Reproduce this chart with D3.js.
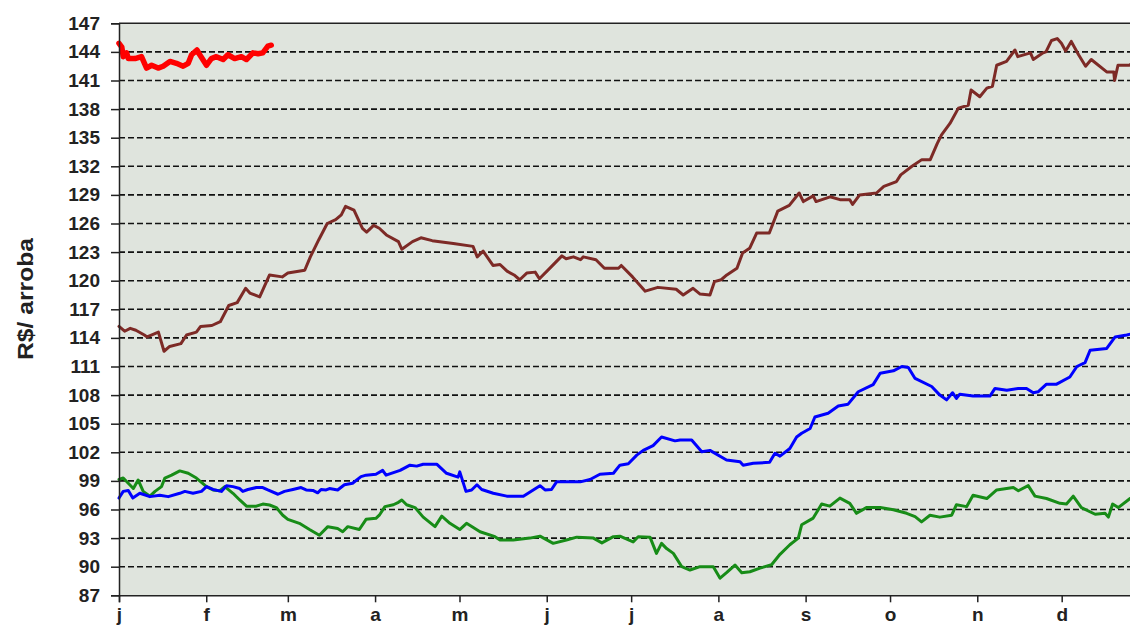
<!DOCTYPE html>
<html><head><meta charset="utf-8">
<script src="https://cdn.jsdelivr.net/npm/d3@7/dist/d3.min.js"></script>
<style>
html,body{margin:0;padding:0;background:#fff;}
svg{display:block;}
text{font-family:Arial,"Liberation Sans",sans-serif;}
</style></head>
<body>
<svg id="chart" width="1130" height="625"></svg>
<script>
// ---- data (day of year, R$/arroba) ----
const monthDays = [0,31,60,91,121,152,182,213,244,274,305,335];
const monthLabels = ["j","f","m","a","m","j","j","a","s","o","n","d"];
const yTicks = [87,90,93,96,99,102,105,108,111,114,117,120,123,126,129,132,135,138,141,144,147];

const redSeries = [[0,144.9],[1,144.5],[1.5,143.5],[2.7,143.9],[3.3,143.3],[5.7,143.3],[8,143.5],[9.8,142.3],[11.6,142.6],[13.9,142.3],[15.7,142.5],[18.1,143.0],[20.4,142.8],[22.8,142.5],[24.6,142.8],[25.8,143.7],[27.7,144.2],[28.7,143.7],[31.1,142.6],[32.8,143.3],[34.6,143.5],[37,143.2],[38.7,143.7],[41.1,143.3],[43.5,143.5],[45.3,143.2],[47.6,143.9],[49.4,143.8],[51.1,143.9],[52.9,144.6],[54.1,144.7]];

const brownSeries = [[0,115.2],[2,114.7],[4,115.0],[6,114.8],[9,114.3],[10,114.1],[14,114.6],[16,112.6],[18,113.1],[22,113.4],[24,114.3],[27.5,114.6],[29,115.2],[33,115.3],[36,115.7],[39,117.4],[42,117.7],[45,119.2],[46.5,118.7],[50,118.3],[53.5,120.6],[58,120.4],[60,120.8],[66,121.1],[68,122.5],[71,124.3],[74,126.0],[77,126.4],[79,126.9],[80.5,127.8],[83.5,127.4],[86.5,125.5],[88,125.1],[90.5,125.8],[92.5,125.5],[95,124.8],[99.3,124.1],[100.5,123.3],[104.3,124.1],[107.3,124.5],[111.3,124.2],[118.8,123.9],[125.8,123.6],[127.3,122.5],[129.4,123.1],[132.9,121.6],[135.4,121.7],[137.9,121.0],[140.4,120.6],[142.4,120.1],[144.9,120.8],[147.9,120.9],[149.4,120.2],[153.4,121.4],[157.4,122.6],[158.9,122.3],[161.5,122.5],[164,122.2],[165,122.5],[169.5,122.2],[172.5,121.3],[177.5,121.3],[178.5,121.6],[182.5,120.4],[187,118.9],[191.5,119.3],[198,119.1],[200.5,118.5],[204,119.2],[206.5,118.6],[210,118.5],[211.6,119.9],[214,120.1],[216,120.6],[219.6,121.3],[221.6,122.9],[224.1,123.4],[226.6,125.0],[231.1,125.0],[234.1,127.3],[238.2,127.9],[241.7,129.2],[243.2,128.3],[246.7,128.9],[247.7,128.3],[252.7,128.8],[256.2,128.5],[259.7,128.5],[260.7,128.0],[263.2,129.0],[269.2,129.2],[271.8,129.9],[276.3,130.4],[277.8,131.1],[281.8,132.0],[285.3,132.7],[288.3,132.7],[290.8,134.4],[292.3,135.3],[295.3,136.5],[298.3,138.1],[301.8,138.4],[302.8,140.0],[305.9,139.3],[308.4,140.2],[310.4,140.4],[311.9,142.6],[315.4,143.0],[318.4,144.2],[319.4,143.5],[323.9,143.9],[324.9,143.2],[328.4,143.9],[329.4,144.0],[331.4,145.2],[333.4,145.4],[334.9,144.9],[336.4,144.1],[338.4,145.1],[341,143.7],[343.5,142.5],[345.5,143.2],[351,141.9],[353.5,141.9],[353.8,141.0],[355,142.6],[359,142.6],[361,143.0],[366,143.0]];

const blueSeries = [[0,97.2],[1.5,97.9],[3.3,98.0],[4.9,97.2],[7.4,97.7],[11,97.35],[14.5,97.5],[17.5,97.35],[21.6,97.7],[23.4,97.9],[26.3,97.7],[29.3,97.9],[31.1,98.4],[33.4,98.1],[36.4,97.9],[38.2,98.5],[40.5,98.4],[42.9,98.2],[44,97.9],[45.8,98.1],[48.8,98.3],[51.1,98.3],[52.9,98.05],[56.5,97.6],[58.8,97.9],[61.8,98.1],[64.7,98.3],[66.5,98.05],[68.9,98.0],[70.6,97.75],[71.8,98.1],[73.6,98.05],[74.8,98.2],[77.7,98.05],[80.1,98.6],[83,98.75],[86,99.45],[87.8,99.6],[91.3,99.7],[93.7,100.1],[94.9,99.6],[99.9,100.1],[103.4,100.65],[105.8,100.55],[108.1,100.75],[112.9,100.75],[116.4,99.8],[120.5,99.4],[121.1,99.95],[123.3,97.9],[125.3,98.05],[127.2,98.6],[128.9,98.1],[133,97.7],[137.8,97.4],[143.7,97.4],[147.2,98.05],[149.6,98.5],[151.4,98.05],[153.7,98.1],[155.5,98.9],[163.9,98.9],[167.4,99.15],[170.9,99.7],[175.7,99.8],[178,100.65],[181,100.8],[184,101.7],[186.3,102.2],[189.8,102.7],[192.8,103.6],[197.6,103.2],[199.4,103.3],[203.5,103.3],[207.1,102.05],[210,102.2],[215.9,101.2],[220.7,101.0],[221.8,100.65],[225.4,100.85],[231.2,100.95],[233.1,101.9],[234.9,101.6],[238.4,102.4],[240.8,103.6],[242.6,104.0],[245.6,104.5],[247.3,105.7],[252,106.1],[255.6,106.85],[259.1,107.05],[262.7,108.35],[268,109.1],[270.5,110.3],[275.2,110.55],[278.2,111.0],[280.5,110.9],[282.9,109.75],[288.8,108.9],[291.7,108.0],[294.1,107.5],[296.2,108.25],[297.6,107.65],[298.8,108.1],[303.5,107.9],[309.5,107.9],[311.3,108.7],[315.5,108.5],[319.6,108.7],[322.5,108.7],[324.9,108.25],[326.6,108.35],[329.6,109.15],[333.2,109.15],[337.9,109.9],[340.4,111.0],[343.3,111.4],[345.1,112.7],[351,112.9],[354,114.1],[358.1,114.3],[361,114.5],[366,114.6]];

const greenSeries = [[0,99.15],[1.5,99.3],[3.3,98.75],[5.1,98.2],[6.8,99.1],[8.6,97.9],[11,97.4],[12.8,97.9],[15.1,98.4],[16.3,99.3],[18.7,99.6],[21.6,100.05],[24.6,99.8],[27.5,99.3],[31.1,98.4],[33.4,98.05],[35.8,97.97],[37.6,98.4],[40.5,97.7],[42.9,97.0],[45.3,96.35],[48.8,96.35],[51.1,96.57],[53.5,96.47],[55.9,96.2],[58.2,95.4],[60,94.97],[64.1,94.55],[67.7,93.9],[71.2,93.3],[74.2,94.2],[77.7,94.0],[79.5,93.67],[81.3,94.2],[85.4,93.9],[87.8,94.97],[91.3,95.07],[92.5,95.4],[94.5,96.3],[97.5,96.5],[99.3,96.75],[100.5,97.0],[102.2,96.5],[105.2,96.2],[108.1,95.2],[112.3,94.2],[114.7,95.3],[117.6,94.55],[121.1,93.9],[123.5,94.55],[128.3,93.67],[133.6,93.15],[135.4,92.8],[140.1,92.8],[146,93.0],[149.6,93.2],[154.3,92.45],[159,92.8],[162.7,93.1],[168.6,93.0],[171.6,92.5],[175.7,93.15],[178,93.2],[182.7,92.6],[184.5,93.15],[188.7,93.1],[191,91.4],[192.8,92.45],[194.6,91.9],[197,91.4],[200,90.0],[202.9,89.65],[206.5,90.0],[211.2,90.0],[213.6,88.8],[215.9,89.37],[218.9,90.17],[221.3,89.37],[224.2,89.47],[227.8,89.85],[231.9,90.2],[234.9,91.3],[238.4,92.3],[241.4,93.0],[242.6,94.4],[246.7,95.1],[249.7,96.57],[252.6,96.35],[256.2,97.2],[259.7,96.65],[262.1,95.6],[265.6,96.2],[270.5,96.2],[275.2,95.98],[279.9,95.6],[282.9,95.25],[285.2,94.7],[288.2,95.4],[291.7,95.2],[295.9,95.4],[297.6,96.5],[301.2,96.3],[303.5,97.5],[308.4,97.15],[311.9,98.05],[317.8,98.3],[319.6,97.97],[323.1,98.5],[325.5,97.4],[329.6,97.15],[334.4,96.65],[336.7,96.57],[339.1,97.4],[342,96.2],[346.9,95.5],[350.4,95.6],[351.6,95.2],[353.1,96.57],[355.1,96.2],[359.3,97.15],[361,97.3],[366,97.6]];

// ---- layout ----
const plotLeft = 119, plotTop = 23.3, plotBottom = 595.3, plotRight = 119 + 366 * 2.814;
const svg = d3.select("#chart");
const x = d3.scaleLinear().domain([0, 366]).range([plotLeft, plotRight]);
const y = d3.scaleLinear().domain([87, 147]).range([plotBottom, plotTop]);

svg.append("rect").attr("x", plotLeft).attr("y", plotTop)
  .attr("width", plotRight - plotLeft).attr("height", plotBottom - plotTop)
  .attr("fill", "#dfe4dd");

// gridlines
svg.append("g").selectAll("line")
  .data(yTicks.filter(v => v !== 87 && v !== 147))
  .join("line")
  .attr("x1", plotLeft).attr("x2", plotRight)
  .attr("y1", d => y(d)).attr("y2", d => y(d))
  .attr("stroke", "#111").attr("stroke-width", 1.6)
  .attr("stroke-dasharray", "6,3");

// series
const line = d3.line().x(d => x(d[0])).y(d => y(d[1])).curve(d3.curveLinear);
const series = [
  {data: greenSeries, color: "#178c17", w: 3},
  {data: blueSeries, color: "#0000ff", w: 3},
  {data: brownSeries, color: "#7d2a26", w: 3},
  {data: redSeries, color: "#ff0000", w: 5.5}
];
svg.append("g").selectAll("path").data(series).join("path")
  .attr("d", s => line(s.data))
  .attr("fill", "none")
  .attr("stroke", s => s.color)
  .attr("stroke-width", s => s.w)
  .attr("stroke-linejoin", "round")
  .attr("stroke-linecap", "round");

// top border
svg.append("line").attr("x1", plotLeft).attr("x2", plotRight)
  .attr("y1", plotTop).attr("y2", plotTop).attr("stroke", "#222").attr("stroke-width", 1.5);

// y axis
const yAxis = d3.axisLeft(y).tickValues(yTicks).tickSize(8).tickPadding(11).tickFormat(d3.format("d"));
const gy = svg.append("g").attr("transform", `translate(${plotLeft},0)`).call(yAxis);
gy.select(".domain").attr("stroke", "#222").attr("stroke-width", 1.5);
gy.selectAll(".tick line").attr("stroke", "#222").attr("stroke-width", 1.5);
gy.selectAll(".tick text").attr("font-size", 19).attr("font-weight", "bold")
  .attr("fill", "#222").attr("font-family", "Arial, 'Liberation Sans', sans-serif");

// x axis
const xAxis = d3.axisBottom(x).tickValues(monthDays).tickSize(7).tickPadding(5)
  .tickFormat((d, i) => monthLabels[i]);
const gx = svg.append("g").attr("transform", `translate(0,${plotBottom})`).call(xAxis);
gx.select(".domain").attr("stroke", "#222").attr("stroke-width", 1.5);
gx.selectAll(".tick line").attr("stroke", "#222").attr("stroke-width", 1.5);
gx.selectAll(".tick text").attr("font-size", 19).attr("font-weight", "bold")
  .attr("fill", "#222").attr("font-family", "Arial, 'Liberation Sans', sans-serif");

// axis title
svg.append("text")
  .attr("transform", "translate(33,299) rotate(-90)")
  .attr("text-anchor", "middle")
  .attr("font-size", 22).attr("font-weight", "bold").attr("fill", "#222")
  .attr("textLength", 122).attr("lengthAdjust", "spacingAndGlyphs")
  .text("R$/ arroba");
</script>
</body></html>
